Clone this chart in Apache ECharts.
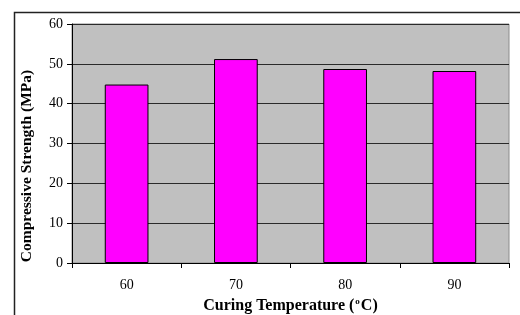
<!DOCTYPE html>
<html>
<head>
<meta charset="utf-8">
<script src="https://cdn.jsdelivr.net/npm/echarts@6/dist/echarts.min.js"></script>
<style>
html,body{margin:0;padding:0;background:#fff;}
#chart{width:520px;height:315px;}
</style>
</head>
<body>
<div id="chart"></div>
<script>
var categories = ['60', '70', '80', '90'];
var strength = [44.8, 51.2, 48.7, 48.2];
var yTicks = [0, 10, 20, 30, 40, 50, 60];

var chart = echarts.init(document.getElementById('chart'), null, {renderer: 'canvas'});
var font = '"Liberation Serif", "Times New Roman", serif';
var option = {
  animation: false,
  backgroundColor: '#ffffff',
  grid: {left: 72, top: 24, right: 11, bottom: 52, containLabel: false, outerBoundsMode: 'none', show: true, backgroundColor: '#c0c0c0', borderColor: '#8c8c8c', borderWidth: 1},
  xAxis: {
    type: 'category',
    data: categories,
    boundaryGap: true,
    axisLine: {lineStyle: {color: '#000', width: 1}},
    axisTick: {show: true, alignWithLabel: false, inside: false, length: 5, lineStyle: {color: '#000'}},
    axisLabel: {color: '#000', fontFamily: font, fontSize: 14, margin: 15},
    name: '{b|Curing Temperature (}{s|o}{b|C)}',
    nameLocation: 'middle',
    nameGap: 33,
    nameTextStyle: {
      rich: {
        b: {fontFamily: font, fontSize: 16, fontWeight: 'bold', color: '#000'},
        s: {fontFamily: font, fontSize: 9, fontWeight: 'bold', color: '#000', verticalAlign: 'top', padding: [0, 1, 9, 1]}
      }
    }
  },
  yAxis: {
    type: 'value',
    min: 0, max: 60, interval: 10,
    axisLine: {show: true, lineStyle: {color: '#000', width: 1}},
    axisTick: {show: true, length: 5, lineStyle: {color: '#000'}},
    axisLabel: {color: '#000', fontFamily: font, fontSize: 14, margin: 9,
      formatter: function (v) { return yTicks.indexOf(v) >= 0 ? String(v) : ''; }},
    splitLine: {show: true, lineStyle: {color: '#2a2a2a', width: 1}}
  },
  series: [{
    type: 'bar',
    data: strength,
    barWidth: '40%',
    itemStyle: {color: '#ff00ff', borderColor: '#000', borderWidth: 1}
  }],
  graphic: [
    {type: 'rect', left: 12, top: 10, shape: {x: 0, y: 0, width: 600, height: 400}, style: {fill: 'none', stroke: '#222', lineWidth: 1.5}, silent: true},
    {type: 'text', x: 27, y: 166, rotation: Math.PI / 2, style: {text: 'Compressive Strength (MPa)', fontFamily: font, fontSize: 15.5, fontWeight: 'bold', fill: '#000', textAlign: 'center', textVerticalAlign: 'middle'}}
  ]
};
chart.setOption(option);
</script>
</body>
</html>
